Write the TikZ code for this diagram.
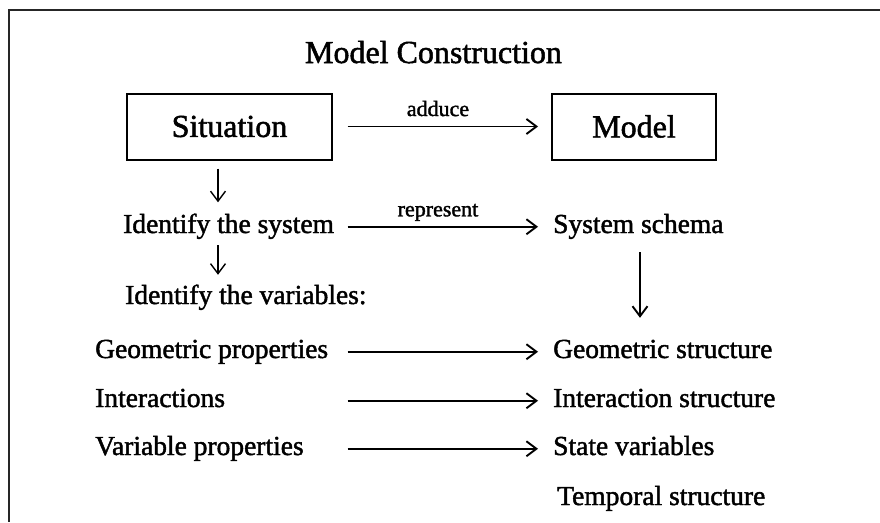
\documentclass[tikz,border=0pt]{standalone}
\usepackage{fontspec}
\setmainfont{Liberation Serif}[FakeBold=1.6]
\usetikzlibrary{arrows.meta,calc}

\begin{document}
\begin{tikzpicture}[x=1pt,y=-1pt]
  \tikzset{
    box/.style={draw,line width=2pt,minimum height=66pt,font=\fontsize{32}{36}\selectfont},
    item/.style={anchor=base west,inner sep=0pt,text height=18.5pt,text depth=6pt,font=\fontsize{27.5}{30}\selectfont},
    lbl/.style={pos=.475,above=9.5pt,inner sep=0pt,text depth=0pt,font=\fontsize{22}{24}\selectfont},
    arr/.style={line width=1.9pt,-{Straight Barb[length=10pt,width=15pt]}}
  }
  \useasboundingbox (0,0) rectangle (880,522);
  \draw[line width=2.5pt,black!85] (880,10) -- (9,10) -- (9,522);
  \node[anchor=base,inner sep=0pt,font=\fontsize{32}{36}\selectfont] (title) at (433.5,63) {Model Construction};
  \node[box,minimum width=205pt] (sit) at (229.5,126.5) {Situation};
  \node[box,minimum width=164pt] (model) at (634,126.5) {Model};
  \coordinate (ax) at (347.5,0);
  \coordinate (bx) at (538,0);
  \coordinate (vx) at (218,0);
  \coordinate (rx) at (640,0);
  \draw[arr] (sit.east -| ax) -- node[lbl] {adduce} (model.west -| bx);
  \node[item] (idsys) at (123,233) {Identify the system};
  \node[item] (schema) at (553,233) {System schema};
  \draw[arr] (idsys.east -| ax) -- node[lbl] {represent} (schema.west -| bx);
  \node[item] (idvar) at (125,304) {Identify the variables:};
  \foreach \n/\a/\b/\y in {geo/Geometric properties/Geometric structure/358,
      int/Interactions/Interaction structure/407,
      var/Variable properties/State variables/455}{
    \node[item] (\n-l) at (95,\y) {\a};
    \node[item] (\n-r) at (553,\y) {\b};
    \draw[arr] (\n-l.east -| ax) -- (\n-r.west -| bx);
  }
  \node[item] (temp) at (557,505) {Temporal structure};
  \draw[arr,line width=1.4pt,shorten <=8pt,shorten >=12pt] (sit.south -| vx) -- (idsys.north -| vx);
  \draw[arr,line width=1.4pt,shorten <=6pt,shorten >=10.5pt] (idsys.south -| vx) -- (idvar.north -| vx);
  \draw[arr,shorten <=13pt,shorten >=21.5pt] (schema.south -| rx) -- (geo-r.north -| rx);
\end{tikzpicture}
\end{document}
